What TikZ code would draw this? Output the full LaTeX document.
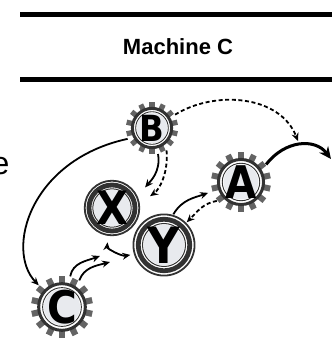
\documentclass[tikz,border=0pt]{standalone}
\usepackage{fontspec}
\setmainfont{Liberation Sans}
\newfontfamily\gearfont{DejaVu Sans Condensed}
\usetikzlibrary{arrows.meta}

\pgfdeclarelayer{background}
\pgfsetlayers{background,main}

\definecolor{ringgray}{RGB}{50,50,50}
\definecolor{toothgray}{RGB}{100,100,100}
\definecolor{facegray}{RGB}{232,234,238}

\tikzset{
  link/.style={line width=1.8pt, -{Stealth[length=8pt,width=7pt]}},
  dashlink/.style={link, dash pattern=on 4pt off 2.6pt},
  flow/.style={line width=3pt, -{Stealth[length=12pt,width=11pt]}},
  gear/.style={circle, minimum size={53pt*#1}, inner sep=0pt},
  hub/.style={circle, minimum size={57pt*#1}, inner sep=0pt},
}

% toothed wheel drawn behind node #1, scaled by #2
\newcommand{\gearrim}[2]{%
  \begin{pgfonlayer}{background}
  \begin{scope}[shift={(#1.center)}, scale=#2]
    \foreach \i in {0,...,13}
      \fill[toothgray, rotate=\i*360/14] (-2.6,19) rectangle (2.6,26);
    \draw[ringgray, line width=3pt] (0,0) circle (19.6pt);
    \draw[ringgray, line width=0.9pt] (0,0) circle (16.3pt);
    \fill[facegray] (0,0) circle (15.2pt);
  \end{scope}
  \end{pgfonlayer}}

% plain wheel with rims only
\newcommand{\hubrim}[2]{%
  \begin{pgfonlayer}{background}
  \begin{scope}[shift={(#1.center)}, scale=#2]
    \draw[ringgray, line width=1.8pt] (0,0) circle (27.3pt);
    \draw[ringgray, line width=4.8pt] (0,0) circle (23pt);
    \draw[ringgray, line width=1pt] (0,0) circle (19.2pt);
    \fill[facegray] (0,0) circle (18.2pt);
  \end{scope}
  \end{pgfonlayer}}

\begin{document}
\begin{tikzpicture}[x=1pt, y=-1pt]
\useasboundingbox (0,0) rectangle (332,341);

% header rules and title
\draw[line width=5pt] (20,14.5) -- (332,14.5);
\draw[line width=5pt] (20,79) -- (332,79);
\node[font=\bfseries\fontsize{22}{24}\selectfont] (title) at (178,47) {Machine C};
\node[anchor=base east, inner sep=0pt, font=\fontsize{32}{36}\selectfont] (cut) at (9.5,174) {e};

% wheels
\node[gear=1, font=\gearfont\bfseries\fontsize{36}{36}\selectfont] (B) at (152,128) {B};
\node[gear=1.15, font=\gearfont\bfseries\fontsize{45}{46}\selectfont] (A) at (241,182) {A};
\node[gear=1.19, font=\gearfont\bfseries\fontsize{45}{46}\selectfont] (C) at (62,307) {C};
\node[hub=1, font=\gearfont\bfseries\fontsize{46}{46}\selectfont] (X) at (112,208) {X};
\node[hub=1.12, font=\gearfont\bfseries\fontsize{50}{50}\selectfont] (Y) at (164,245) {Y};
\gearrim{B}{1}
\gearrim{A}{1.15}
\gearrim{C}{1.19}
\hubrim{X}{1}
\hubrim{Y}{1.12}

\coordinate (drop) at (298,141);
\coordinate (exit) at (331,159);
\coordinate (xin) at (100,256);
\coordinate (yin) at (110,262);

% connectors
\draw[link] (B.204) .. controls (30,160) and (5,250) .. (C.137);
\draw[link, shorten >=11pt] (B.-77) to[out=-80,in=50] (X.25);
\draw[dashlink, shorten >=12pt] (B.-57) to[out=-85,in=35] (X.10);
\draw[dashlink] (B.30) .. controls (215,90) and (280,95) .. (drop);
\draw[flow] (A.35) .. controls (285,140) and (315,138) .. (exit);
\draw[link, shorten >=4pt] (Y.73) to[out=60,in=200] (A.198);
\draw[dashlink] (A.218) to[out=190,in=45] (Y.45);
\draw[link] (C.75) to[out=80,in=200] (xin);
\draw[link] (C.57) to[out=70,in=195] (yin);
\draw[{Stealth[length=8pt,width=7pt]}-{Stealth[length=8pt,width=7pt]}, line width=1.8pt,
  shorten <=6pt, shorten >=3pt] (X.262) to[out=-95,in=190] (Y.197);
\end{tikzpicture}
\end{document}
